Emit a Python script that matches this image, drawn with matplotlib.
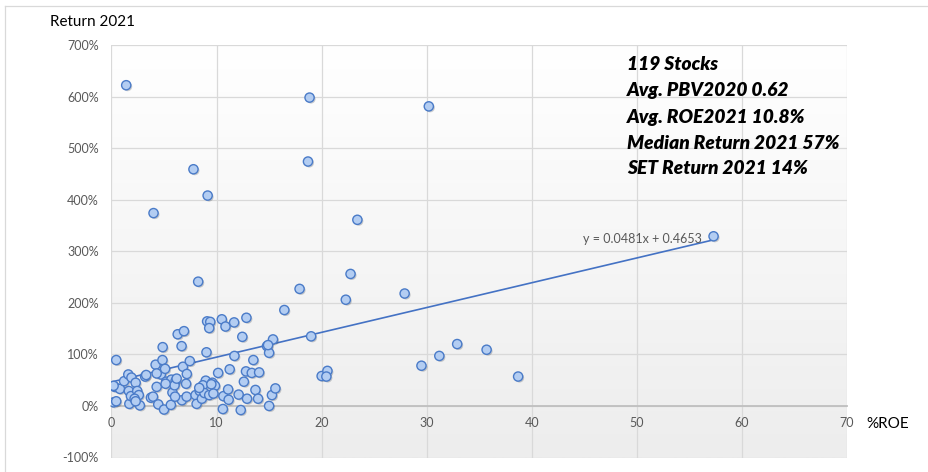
import numpy as np
import matplotlib
matplotlib.use("Agg")
import matplotlib.pyplot as plt
from matplotlib.ticker import PercentFormatter, MultipleLocator
from matplotlib.colors import LinearSegmentedColormap
from matplotlib.lines import Line2D
import matplotlib.patheffects as pe

plt.rcParams['font.family'] = ['Lato', 'DejaVu Sans']
plt.rcParams['axes.unicode_minus'] = False

# ---- data ----
roe = [0.2, 0.45, 0.3, 0.8, 0.45, 0.2, 1.2, 1.6, 1.9, 1.65,
       1.7, 1.85, 2.3, 2.45, 2.6, 2.2, 2.7, 3.2, 3.3, 3.75,
       3.95, 4.2, 4.3, 4.45, 4.7, 4.85, 4.87, 5.1, 5.2, 5.0,
       5.65, 5.8, 5.7, 6.1, 6.0, 6.3, 6.67, 6.9, 6.7, 6.8,
       7.17, 7.15, 7.1, 7.45, 8.0, 8.1, 8.25, 8.4, 8.6, 8.97,
       9.04, 9.1, 9.4, 9.3, 8.7, 8.85, 9.3, 9.6, 9.85, 9.7,
       10.15, 10.5, 10.6, 10.65, 10.85, 11.1, 11.15, 11.25, 11.7, 11.67,
       12.1, 12.3, 12.45, 12.6, 12.8, 12.84, 12.9, 13.35, 13.5, 13.7,
       13.95, 14.05, 14.8, 15.0, 15.0, 15.27, 15.37, 15.6, 16.45, 17.9,
       19.0, 20.0, 20.55, 20.45, 18.85, 30.2, 18.7, 23.4, 22.75, 22.3,
       27.9, 29.5, 31.2, 32.9, 35.7, 38.7, 57.3, 1.4, 7.8, 9.15,
       4.0, 6.2, 6.05, 5.15, 9.5, 8.35, 14.9, 2.3, 4.3]
ret_pct = [7, 9, 37, 33, 89, 39, 48, 61, 55, 29,
           4, 19, 45, 29, 21, 14, 1, 57, 60, 16,
           18, 80, 37, 3, 61, 89, 114, 72, 47, -7,
           2, 26, 51, 48, 40, 139, 116, 145, 11, 76,
           62, 18, 43, 87, 21, 4, 241, 29, 14, 49,
           104, 164, 163, 151, 40, 25, 21, 45, 39, 24,
           64, 168, -6, 19, 154, 32, 12, 71, 97, 162,
           22, -8, 134, 47, 67, 171, 14, 64, 89, 31,
           14, 65, 116, 103, 0, 21, 129, 34, 186, 227,
           135, 58, 68, 57, 598, 581, 474, 361, 256, 206,
           218, 78, 97, 120, 109, 57, 329, 622, 459, 408,
           374, 53, 18, 43, 42, 35, 118, 9, 63]
trend_slope = 0.0481
trend_intercept = 0.4653
x_ticks = [0, 10, 20, 30, 40, 50, 60, 70]
y_ticks = [-1, 0, 1, 2, 3, 4, 5, 6, 7]
info_lines = ["119 Stocks", "Avg. PBV2020 0.62", "Avg. ROE2021 10.8%",
              "Median Return 2021 57%", "SET Return 2021 14%"]

roe = np.array(roe)
ret = np.array(ret_pct) / 100.0

W, H = 929, 472
fig = plt.figure(figsize=(W / 100, H / 100), dpi=100)
fig.patch.set_facecolor('white')
ax = fig.add_axes([111.5 / W, 1 - 457.5 / H, (847 - 111.5) / W, (457.5 - 45) / H])

# gradient background of plot area
grad = np.linspace(0, 1, 256).reshape(-1, 1)
cmap = LinearSegmentedColormap.from_list('bg', ['#ffffff', '#ededed'])
ax.imshow(grad, cmap=cmap, extent=(0, 1, 0, 1), transform=ax.transAxes,
          aspect='auto', zorder=0, origin='upper')

ax.set_xlim(0, 70)
ax.set_ylim(-1, 7)
ax.set_xticks(x_ticks)
ax.set_yticks(y_ticks)
ax.yaxis.set_major_formatter(PercentFormatter(xmax=1, decimals=0))
ax.grid(True, color='#d9d9d9', linewidth=0.9, zorder=1)
ax.set_axisbelow(True)
for s in ['left', 'right', 'top']:
    ax.spines[s].set_visible(False)
ax.spines['bottom'].set_position(('data', 0))
ax.spines['bottom'].set_color('#bfbfbf')
ax.spines['bottom'].set_linewidth(1.3)
ax.tick_params(axis='both', length=0, labelsize=9, labelcolor='#595959')
ax.tick_params(axis='y', pad=9)
ax.tick_params(axis='x', pad=8)

# trendline
xl = np.array([0, roe.max()])
ax.plot(xl, trend_slope * xl + trend_intercept, color='#4472c4', lw=1.2, zorder=3)

# points
sc = ax.scatter(roe, ret, s=44, facecolor='#b3cdf2', edgecolor='#4a7bc8',
                linewidths=1.0, zorder=4)
sc.set_path_effects([pe.SimplePatchShadow(offset=(1, -1), alpha=0.25), pe.Normal()])

# texts
fig.text(50 / W, 1 - 22 / H, "Return 2021", fontsize=11, color='black', va='center', ha='left')
fig.text(866 / W, 1 - 424 / H, "%ROE", fontsize=11, color='black', va='center', ha='left')
fig.text(702 / W, 1 - 239 / H, "y = 0.0481x + 0.4653", fontsize=9, color='#595959',
         va='center', ha='right')
baselines = [70, 96, 122.5, 149, 173.5]
for line, b in zip(info_lines, baselines):
    fig.text(627 / W, 1 - b / H, line, fontsize=13.8, fontweight='heavy', fontstyle='italic',
             color='black', va='baseline', ha='left')

# outer chart border (left and top)
fig.add_artist(Line2D([5 / W, 5 / W], [0, 1 - 6 / H], color='#d9d9d9', lw=0.9))
fig.add_artist(Line2D([5 / W, 1], [1 - 6 / H, 1 - 6 / H], color='#d9d9d9', lw=0.9))

fig.savefig('out.png', dpi=100)
